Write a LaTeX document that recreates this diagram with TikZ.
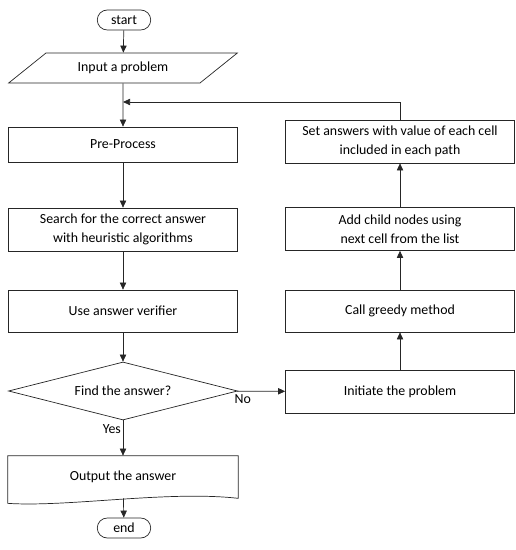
\documentclass[tikz,border=0pt]{standalone}
\usepackage{fontspec}
\setmainfont{Carlito}
\usetikzlibrary{shapes.geometric,shapes.misc,arrows.meta}

\begin{document}
\begin{tikzpicture}[x=0.02cm,y=-0.02cm,
        every node/.style={font=\fontsize{7.9}{11}\selectfont, align=center},
        box/.style={draw=black!85, rectangle, minimum width=4.58cm, minimum height=0.86cm, inner sep=1pt},
        term/.style={draw=black!85, rounded rectangle, minimum width=1.14cm, minimum height=0.4cm, inner sep=1pt},
        io/.style={draw=black!85, trapezium, trapezium left angle=34, trapezium right angle=146,
            trapezium stretches=true, minimum width=4.6cm, minimum height=0.6cm, inner sep=1pt},
        dec/.style={draw=black!85, diamond, aspect=3.95, minimum width=4.58cm, minimum height=1.16cm, inner sep=0pt},
        arr/.style={draw=black!85, -{Triangle[length=4pt,width=3.6pt]}}]
    \useasboundingbox (0,0) rectangle (515,550);

    % main column
    \node[term] (start) at (124,20) {start};
    \node[io] (input) at (123,68) {Input a problem};
    \node[box, minimum height=0.7cm] (pre) at (123,144.5) {Pre-Process};
    \node[box] (search) at (123,229.5) {Search for the correct answer\\with heuristic algorithms};
    \node[box, minimum height=0.84cm] (verify) at (123,311) {Use answer verifier};
    \node[dec] (find) at (123,391) {Find the answer?};
    \node[minimum width=4.6cm, minimum height=0.84cm, inner sep=0pt] (output) at (123,477) {Output the answer};
    \draw[black!85] (output.south west) -- (output.north west) -- (output.north east) -- (output.south east)
        .. controls +(-70,-8) and +(60,4) .. ([yshift=-0.1cm]output.south west) -- cycle;
    \node[term] (end) at (124,528) {end};

    % greedy column
    \node[box] (set) at (400,141.5) {Set answers with value of each cell\\included in each path};
    \node[box] (child) at (400,229) {Add child nodes using\\next cell from the list};
    \node[box, minimum height=0.84cm] (greedy) at (400,311) {Call greedy method};
    \node[box] (init) at (400,391.5) {Initiate the problem};
    \coordinate (join) at (123,102);

    \foreach \a/\b in {start/input, input/pre, pre/search, search/verify, verify/find,
                       output/end, init/greedy, greedy/child, child/set} {
        \draw[arr] (\a) -- (\b);
    }
    \draw[arr] (find) -- node[pos=0.25, left, inner sep=1pt] {Yes} (output);
    \draw[arr] (find) -- node[pos=0.12, below, inner sep=2pt] {No} (init);
    \draw[arr] (set.north) |- (join);
\end{tikzpicture}
\end{document}
